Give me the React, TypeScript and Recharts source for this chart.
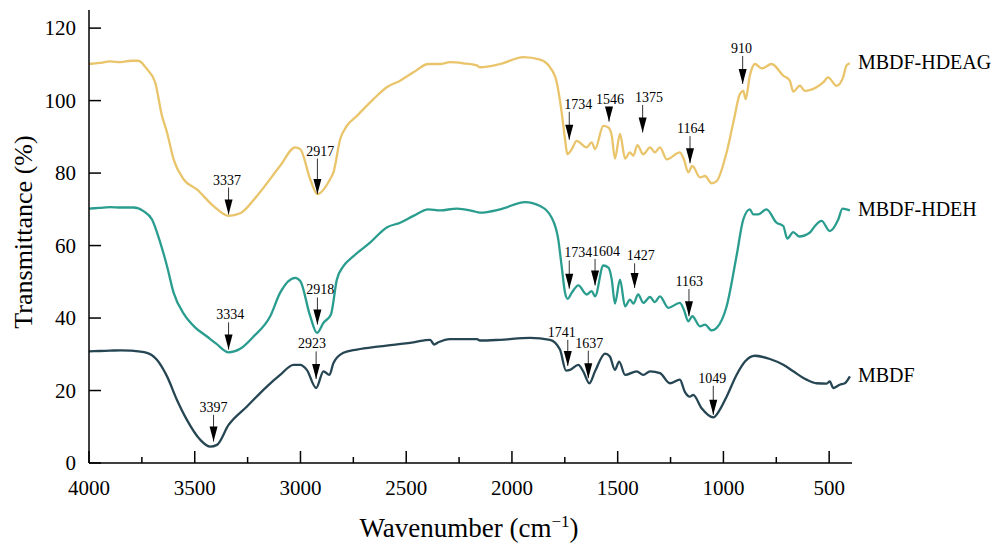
import React from "react";
import {
  ComposedChart,
  Line,
  Scatter,
  XAxis,
  YAxis,
  ReferenceLine,
} from "recharts";

const FONT = "'Liberation Serif', 'DejaVu Serif', serif";

// [wavenumber, transmittance]
const hdeag: [number, number][] = [
  [4000, 110.1], [3950, 110.4], [3900, 110.8], [3850, 110.6], [3800, 111], [3767, 111],
  [3726, 108.7], [3687, 105], [3655, 95.8], [3631, 91.2], [3600, 83.8], [3553, 78.3],
  [3490, 75.5], [3411, 70.9], [3340, 68.2], [3285, 68.9], [3206, 73.7], [3096, 82],
  [3025, 87.1], [3001, 86.6], [2954, 78.3], [2920, 74.2], [2860, 78.3], [2844, 80.2],
  [2812, 89.4], [2781, 93], [2733, 95.8], [2655, 100.4], [2592, 103.7], [2529, 105.5],
  [2466, 107.8], [2395, 110.1], [2340, 110.1], [2293, 110.6], [2230, 110.3], [2166, 109.7],
  [2151, 109.2], [2056, 110.1], [1946, 112], [1867, 111.3], [1820, 109.2], [1788, 105],
  [1765, 96.8], [1749, 89.4], [1738, 85.2], [1717, 86.6], [1694, 88.9], [1647, 87.1],
  [1623, 88.5], [1607, 86.6], [1568, 93], [1544, 92.6], [1528, 90.3], [1513, 84],
  [1489, 90.8], [1465, 84], [1442, 85.7], [1426, 84.8], [1407, 87.7], [1379, 85.2],
  [1347, 87.1], [1324, 85.7], [1300, 87.1], [1268, 83.8], [1206, 85.7], [1187, 83.8],
  [1166, 80.2], [1147, 82], [1111, 78.8], [1087, 79.2], [1056, 77.2], [1032, 77.8],
  [985, 85.7], [953, 94], [922, 101.8], [906, 102.7], [895, 100.4], [875, 106.9],
  [851, 110.1], [819, 108.9], [772, 110.1], [717, 106.9], [686, 105.5], [670, 102.5],
  [638, 104.1], [615, 102.7], [560, 103.7], [528, 105], [505, 106.4], [465, 104.1],
  [434, 106.4], [418, 109.7], [402, 110.3],
];

const hdeh: [number, number][] = [
  [4000, 70.2], [3950, 70.4], [3900, 70.6], [3850, 70.5], [3789, 70.5], [3742, 69.5],
  [3702, 67.2], [3663, 60.8], [3631, 54.3], [3600, 47], [3550, 41], [3500, 37.5],
  [3442, 34.9], [3400, 33], [3340, 30.5], [3285, 31.5], [3222, 34.9],
  [3143, 40.5], [3096, 47], [3025, 51.1], [3001, 50.2], [2954, 40.5], [2922, 35.9],
  [2891, 38.7], [2856, 41], [2828, 50.6], [2797, 54.3], [2749, 57.1], [2671, 60.8],
  [2592, 65], [2529, 66.3], [2466, 68.2], [2395, 70], [2340, 69.7], [2261, 70.2],
  [2183, 69.5], [2151, 69.1], [2056, 70], [1938, 72], [1867, 70.9], [1812, 67.7],
  [1781, 61.7], [1765, 54.3], [1749, 47], [1736, 45.3], [1717, 47], [1686, 49],
  [1647, 46.5], [1623, 47.4], [1607, 46], [1568, 54.5], [1544, 53.9], [1528, 50.6],
  [1513, 44], [1489, 50.6], [1465, 43.2], [1442, 45.1], [1426, 44], [1403, 46.5],
  [1379, 44.2], [1347, 45.8], [1324, 44.4], [1300, 46], [1261, 42.8], [1206, 44.2],
  [1187, 42.3], [1166, 39.1], [1147, 40.5], [1111, 37.7], [1087, 38.2], [1056, 36.6],
  [1032, 37.3], [985, 43.2], [938, 57.1], [906, 67.2], [875, 70], [859, 68.6],
  [836, 68.6], [796, 70], [749, 66.3], [717, 65.4], [698, 61.9], [670, 63.7],
  [642, 62.5], [591, 63.6], [567, 65.4], [536, 66.8], [497, 64], [457, 67.2],
  [437, 70.2], [402, 69.7],
];

const mbdf: [number, number][] = [
  [4000, 30.8], [3950, 30.9], [3900, 31], [3850, 31.1], [3805, 31], [3726, 30.4],
  [3679, 28.5], [3631, 23.9], [3584, 17.4], [3537, 11.9], [3474, 6.4], [3427, 4.5],
  [3395, 5], [3340, 10.5], [3253, 15.6], [3159, 21.1], [3096, 24.3], [3033, 27.1],
  [3001, 27.1], [2970, 25.7], [2926, 20.7], [2891, 25.3], [2863, 24.3], [2844, 27.6],
  [2797, 30.4], [2733, 31.3], [2623, 32.2], [2466, 33.3], [2387, 34], [2368, 32.7],
  [2348, 33.3], [2293, 34.2], [2166, 34.2], [2151, 33.8], [2056, 34], [1914, 34.5],
  [1820, 34], [1773, 31.3], [1744, 25.5], [1725, 25.7], [1686, 27.1], [1663, 25.3],
  [1634, 22], [1607, 25.3], [1560, 30.2], [1537, 29.4], [1513, 25.7], [1493, 28],
  [1465, 24.3], [1410, 25.3], [1379, 24.3], [1347, 25.3], [1300, 24.8], [1253, 22],
  [1206, 23], [1183, 19.7], [1159, 18.3], [1143, 18.8], [1103, 15.1], [1048, 12.6],
  [1017, 14.7], [985, 18.3], [938, 24.3], [898, 28], [851, 29.6], [780, 28.7],
  [717, 27.1], [670, 25.3], [607, 23], [560, 22], [512, 21.9], [497, 22.5],
  [481, 20.7], [450, 21.6], [426, 22], [402, 23.9],
];

// peak markers: label, arrow x, arrow tip, arrow top, label x
type Peak = { text: string; x: number; tip: number; top: number; tx: number };

const hdeagPeaks: Peak[] = [
  { text: "3337", x: 3340, tip: 68.6, top: 76.0, tx: 3348 },
  { text: "2917", x: 2920, tip: 74.2, top: 84.0, tx: 2907 },
  { text: "1734", x: 1729, tip: 89.2, top: 96.9, tx: 1686 },
  { text: "1546", x: 1541, tip: 94.2, top: 98.3, tx: 1536 },
  { text: "1375", x: 1382, tip: 91.2, top: 98.8, tx: 1352 },
  { text: "1164", x: 1158, tip: 82.7, top: 90.2, tx: 1154 },
  { text: "910", x: 909, tip: 104.6, top: 112.3, tx: 914 },
];

const hdehPeaks: Peak[] = [
  { text: "3334", x: 3340, tip: 31.3, top: 38.8, tx: 3332 },
  { text: "2918", x: 2920, tip: 38.2, top: 45.7, tx: 2907 },
  { text: "1734", x: 1729, tip: 48.1, top: 55.9, tx: 1686 },
  { text: "1604", x: 1607, tip: 49.0, top: 56.3, tx: 1555 },
  { text: "1427", x: 1420, tip: 48.3, top: 55.1, tx: 1391 },
  { text: "1163", x: 1163, tip: 40.5, top: 48.0, tx: 1162 },
];

const mbdfPeaks: Peak[] = [
  { text: "3397", x: 3411, tip: 5.9, top: 13.3, tx: 3411 },
  { text: "2923", x: 2926, tip: 23.2, top: 30.8, tx: 2946 },
  { text: "1741", x: 1736, tip: 26.8, top: 34.0, tx: 1765 },
  { text: "1637", x: 1639, tip: 23.4, top: 31.0, tx: 1634 },
  { text: "1049", x: 1048, tip: 13.3, top: 21.3, tx: 1053 },
];

const seriesNames = ["MBDF-HDEAG", "MBDF-HDEH", "MBDF"];
const colors = ["#e9c46a", "#2a9d8f", "#264653"];

const xTicks = [4000, 3750, 3500, 3250, 3000, 2750, 2500, 2250, 2000, 1750, 1500, 1250, 1000, 750, 500];
const yTicks = [0, 20, 40, 60, 80, 100, 120];

const toRows = (pts: [number, number][]) => pts.map(([x, y]) => ({ x, y }));
const allPeaks = [...hdeagPeaks, ...hdehPeaks, ...mbdfPeaks];

const XTick = (props: any) => {
  const { x, y, payload } = props;
  const major = payload.value % 500 === 0;
  return (
    <g>
      <line x1={x} x2={x} y1={y} y2={y - (major ? 12 : 6)} stroke="#000" strokeWidth={1.5} />
      {major && (
        <text x={x} y={y + 32} textAnchor="middle" fontSize={21} fontFamily={FONT} fill="#000">
          {payload.value}
        </text>
      )}
    </g>
  );
};

const YTick = (props: any) => {
  const { x, y, payload } = props;
  return (
    <g>
      <line x1={x} x2={x + 12} y1={y} y2={y} stroke="#000" strokeWidth={1.5} />
      <text x={x - 13} y={y + 7} textAnchor="end" fontSize={21} fontFamily={FONT} fill="#000">
        {payload.value}
      </text>
    </g>
  );
};

const ArrowHead = (props: any) => {
  const { cx, cy } = props;
  return (
    <polygon
      points={`${cx - 4},${cy - 15} ${cx + 4},${cy - 15} ${cx},${cy}`}
      fill="#000"
    />
  );
};

const PeakText = (props: any) => {
  const { cx, cy, payload } = props;
  return (
    <text x={cx} y={cy - 3} textAnchor="middle" fontSize={14} fontFamily={FONT} fill="#000">
      {payload.text}
    </text>
  );
};

const endLabel = (name: string, lastIndex: number) => (props: any) => {
  const { x, y, index } = props;
  if (index !== lastIndex) return null;
  return (
    <text x={x + 8} y={y + 6} fontSize={20} fontFamily={FONT} fill="#000">
      {name}
    </text>
  );
};

export default function App() {
  const series = [hdeag, hdeh, mbdf];
  return (
    <div style={{ position: "absolute", left: 0, top: 0, width: 995, height: 546, background: "#fff" }}>
      <ComposedChart
        width={995}
        height={546}
        margin={{ top: 10, right: 143, bottom: 23, left: 29 }}
      >
        <XAxis
          type="number"
          dataKey="x"
          domain={[392, 4000]}
          reversed
          allowDataOverflow
          ticks={xTicks}
          interval={0}
          tick={<XTick />}
          tickLine={false}
          tickSize={0}
          tickMargin={0}
          height={60}
          axisLine={{ stroke: "#000", strokeWidth: 1.5 }}
          label={{
            content: () => (
              <text x={469} y={537} textAnchor="middle" fontSize={27} fontFamily={FONT} fill="#000">
                Wavenumber (cm
                <tspan fontSize={17} dy={-10}>−1</tspan>
                <tspan dy={10}>)</tspan>
              </text>
            ),
          }}
        />
        <YAxis
          type="number"
          domain={[0, 125]}
          allowDataOverflow
          ticks={yTicks}
          interval={0}
          tick={<YTick />}
          tickLine={false}
          tickSize={0}
          tickMargin={0}
          width={60}
          axisLine={{ stroke: "#000", strokeWidth: 1.5 }}
          label={{
            content: () => (
              <text
                x={0}
                y={0}
                transform="translate(32, 232) rotate(-90)"
                textAnchor="middle"
                fontSize={26}
                fontFamily={FONT}
                fill="#000"
              >
                Transmittance (%)
              </text>
            ),
          }}
        />

        {series.map((pts, i) => (
          <Line
            key={seriesNames[i]}
            data={toRows(pts)}
            dataKey="y"
            type="monotone"
            stroke={colors[i]}
            strokeWidth={2.3}
            dot={false}
            activeDot={false}
            isAnimationActive={false}
            label={endLabel(seriesNames[i], pts.length - 1)}
          />
        ))}

        {allPeaks.map((p, i) => (
          <ReferenceLine
            key={"seg" + i}
            segment={[{ x: p.x, y: p.top }, { x: p.x, y: p.tip }]}
            stroke="#333"
            strokeWidth={1}
          />
        ))}

        <Scatter
          data={allPeaks.map((p) => ({ x: p.x, y: p.tip }))}
          dataKey="y"
          shape={<ArrowHead />}
          isAnimationActive={false}
        />
        <Scatter
          data={allPeaks.map((p) => ({ x: p.tx, y: p.top, text: p.text }))}
          dataKey="y"
          shape={<PeakText />}
          isAnimationActive={false}
        />
      </ComposedChart>
    </div>
  );
}
